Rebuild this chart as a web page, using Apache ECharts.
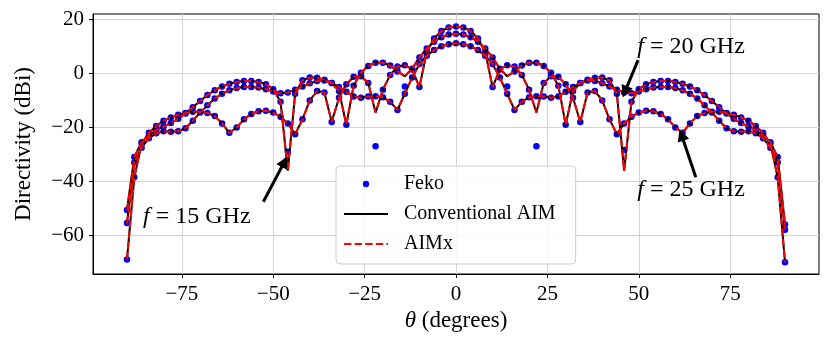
<!DOCTYPE html>
<html>
<head>
<meta charset="utf-8">
<script src="https://cdn.jsdelivr.net/npm/echarts@6/dist/echarts.min.js"></script>
<style>
  html, body { margin: 0; padding: 0; background: #fff; }
  #chart { width: 830px; height: 347px; }
</style>
</head>
<body>
<div id="chart"></div>
<script>
// sampling angle (deg), every 2 degrees from -90 to 90
const theta = Array.from({ length: 91 }, (_, i) => -90 + 2 * i);

// directivity (dBi), -90 .. 90
const d25 = [
  -69.0, -38.5, -26.0, -22.0, -19.5, -17.5, -16.3, -15.3, -14.6, -14.2,
  -14.2, -14.6, -15.8, -18.5, -22.0, -20.0, -17.0, -15.0, -14.0, -13.8,
  -14.5, -16.0, -18.5, -22.5, -17.0, -10.0, -6.5, -7.0, -18.0, -9.0,
  -4.0, -1.2, -1.0, -3.5, -14.5, -6.0, -0.5, 2.6, 3.1, 1.5,
  -5.0, 8.0, 13.0, 15.8, 17.1,
  17.5,
  17.1, 15.8, 13.0, 8.0, -5.0, 1.5, 3.1, 2.6, -0.5, -6.0,
  -14.5, -3.5, -1.0, -1.2, -4.0, -9.0, -18.0, -7.0, -6.5, -10.0,
  -17.0, -22.5, -18.5, -16.0, -14.5, -13.8, -14.0, -15.0, -17.0, -20.0,
  -22.0, -18.5, -15.8, -14.6, -14.2, -14.2, -14.6, -15.3, -16.3, -17.5,
  -19.5, -22.0, -26.0, -38.5, -70.0
];
const d20 = [
  -55.5, -33.0, -27.5, -24.0, -22.2, -21.4, -21.6, -21.4, -20.3, -17.5,
  -14.5, -11.8, -9.3, -7.5, -6.2, -5.4, -5.0, -5.0, -5.2, -5.8,
  -6.7, -7.3, -7.0, -6.0, -4.8, -3.6, -2.8, -2.6, -3.5, -6.5,
  -19.0, -4.5, 0.3, 2.8, 4.0, 4.0, 3.0, 0.8, -1.0, 1.8,
  6.0, 9.3, 11.8, 13.5, 14.5,
  14.8,
  14.5, 13.5, 11.8, 9.3, 6.0, 1.8, -1.0, 0.8, 3.0, 4.0,
  4.0, 2.8, 0.3, -4.5, -19.0, -6.5, -3.5, -2.6, -2.8, -3.6,
  -4.8, -6.0, -7.0, -7.3, -6.7, -5.8, -5.2, -5.0, -5.0, -5.4,
  -6.2, -7.5, -9.3, -11.8, -14.5, -17.5, -20.3, -21.4, -21.6, -21.4,
  -22.2, -24.0, -27.5, -33.0, -58.0
];
const d15 = [
  -50.6, -31.0, -25.5, -23.0, -21.0, -19.6, -18.4, -16.8, -14.8, -12.5,
  -10.2, -8.0, -6.2, -4.8, -3.8, -3.1, -2.8, -2.8, -3.1, -4.0,
  -5.8, -10.5, -36.0, -7.5, -2.5, -1.5, -1.6, -2.3, -3.5, -5.0,
  -6.8, -8.5, -9.0, -8.5, -8.4, -8.8, -10.5, -13.5, -7.5, -1.5,
  3.5, 6.6, 8.7, 10.1, 10.9,
  11.2,
  10.9, 10.1, 8.7, 6.6, 3.5, -1.5, -7.5, -13.5, -10.5, -8.8,
  -8.4, -8.5, -9.0, -8.5, -6.8, -5.0, -3.5, -2.3, -1.6, -1.5,
  -2.5, -7.5, -36.0, -10.5, -5.8, -4.0, -3.1, -2.8, -2.8, -3.1,
  -3.8, -4.8, -6.2, -8.0, -10.2, -12.5, -14.8, -16.8, -18.4, -19.6,
  -21.0, -23.0, -25.5, -31.0, -56.0
];

// Feko samples that differ from the AIM solution: [theta, dBi]
const feko15Diff = [[-46, -29.0], [46, -28.4]];
const feko20Diff = [[-14, -4.8], [14, -4.8]];
const feko25Diff = [[-22, -27.0], [22, -27.0]];

const xTicks = [-75, -50, -25, 0, 25, 50, 75];
const yTicks = [-60, -40, -20, 0, 20];

// annotations: text anchor and arrow (tail -> tip), in data units
const notes = [
  { text: "20", at: [49.6, 9.8], from: [49.8, 5.0], to: [46.2, -6.8] },
  { text: "25", at: [49.6, -43.2], from: [65.6, -38.5], to: [61.7, -22.8] },
  { text: "15", at: [-85.6, -53.3], from: [-52.7, -47.6], to: [-46.9, -32.7] },
];

const FONT = "Liberation Serif";
const minus = (v) => String(v).replace("-", "\u2212");

function pairs(vals) {
  return theta.map((t, i) => [t, vals[i]]);
}
function feko(vals, diff) {
  const p = pairs(vals);
  diff.forEach(([t, v]) => {
    const k = theta.indexOf(t);
    if (k > -1) p[k] = [t, v];
  });
  return p;
}

const curves = [
  { line: d15, diff: feko15Diff },
  { line: d20, diff: feko20Diff },
  { line: d25, diff: feko25Diff },
];

const series = [];
curves.forEach((c) => {
  series.push({
    name: "Feko",
    type: "line",
    data: feko(c.line, c.diff),
    symbol: "circle",
    symbolSize: 6.5,
    showSymbol: true,
    itemStyle: { color: "#0000ff" },
    lineStyle: { width: 0, opacity: 0 },
    z: 2,
  });
});
curves.forEach((c) => {
  series.push({
    name: "Conventional AIM",
    type: "line",
    data: pairs(c.line),
    symbol: "none",
    itemStyle: { color: "#000000" },
    lineStyle: { color: "#000000", width: 2 },
    z: 3,
  });
});
curves.forEach((c) => {
  series.push({
    name: "AIMx",
    type: "line",
    data: pairs(c.line),
    symbol: "none",
    itemStyle: { color: "#ff0000" },
    lineStyle: { color: "#ff0000", width: 2, type: [7.4, 3.2] },
    z: 4,
  });
});
// arrows and labels
series.push({
  name: "notes",
  type: "line",
  data: [],
  silent: true,
  z: 6,
  markLine: {
    silent: true,
    symbol: ["none", "triangle"],
    symbolSize: 12,
    label: { show: false },
    itemStyle: { color: "#000" },
    lineStyle: { color: "#000", width: 3, type: "solid" },
    emphasis: { disabled: true },
    data: notes.map((n) => [{ coord: n.from }, { coord: n.to }]),
  },
  markPoint: {
    silent: true,
    symbol: "rect",
    symbolSize: 0,
    label: {
      show: true,
      position: "right",
      distance: 0,
      color: "#000",
      fontFamily: FONT,
      fontSize: 24,
      formatter: (p) => "{i|f} = " + p.value + " GHz",
      rich: { i: { fontStyle: "italic", fontFamily: FONT, fontSize: 24, color: "#000" } },
    },
    data: notes.map((n) => ({ coord: n.at, value: n.text })),
  },
});

const axisText = { color: "#000", fontFamily: FONT, fontSize: 21 };

const option = {
  animation: false,
  backgroundColor: "#fff",
  grid: {
    left: 93,
    right: 11,
    top: 14,
    bottom: 73,
    show: true,
    borderColor: "#000",
    borderWidth: 1,
  },
  legend: {
    data: [
      { name: "Feko" },
      { name: "Conventional AIM", itemStyle: { opacity: 0 } },
      { name: "AIMx", itemStyle: { opacity: 0 } },
    ],
    orient: "vertical",
    left: 336,
    top: 166,
    itemWidth: 44,
    itemHeight: 8,
    itemGap: 8,
    padding: [7, 20, 9, 7],
    backgroundColor: "rgba(255,255,255,0.8)",
    borderColor: "#cccccc",
    borderWidth: 1,
    borderRadius: 4,
    selectedMode: false,
    textStyle: {
      color: "#000",
      fontFamily: FONT,
      fontSize: 20,
      lineHeight: 22,
      padding: [0, 0, 0, 11],
    },
  },
  xAxis: {
    type: "value",
    min: -99.3,
    max: 99.3,
    name: "{i|\u03b8} (degrees)",
    nameLocation: "middle",
    nameGap: 34,
    nameTextStyle: {
      color: "#000",
      fontFamily: FONT,
      fontSize: 23,
      verticalAlign: "top",
      rich: { i: { fontStyle: "italic", fontFamily: FONT, fontSize: 23, color: "#000" } },
    },
    axisLine: { show: true, onZero: false, lineStyle: { color: "#000", width: 1 } },
    axisTick: { show: true, length: 4, customValues: xTicks, lineStyle: { color: "#000" } },
    axisLabel: { ...axisText, margin: 10, customValues: xTicks, formatter: minus },
    splitLine: { show: true, lineStyle: { color: "#d4d4d4", width: 1 } },
  },
  yAxis: {
    type: "value",
    min: -74.4,
    max: 22.1,
    name: "Directivity (dBi)",
    nameLocation: "middle",
    nameGap: 58,
    nameTextStyle: { color: "#000", fontFamily: FONT, fontSize: 23 },
    axisLine: { show: true, onZero: false, lineStyle: { color: "#000", width: 1 } },
    axisTick: { show: true, length: 4, customValues: yTicks, lineStyle: { color: "#000" } },
    axisLabel: { ...axisText, margin: 9, customValues: yTicks, formatter: minus },
    splitLine: { show: true, lineStyle: { color: "#d4d4d4", width: 1 } },
  },
  series,
};

const myChart = echarts.init(document.getElementById("chart"), null, { renderer: "canvas" });
myChart.setOption(option);
window.addEventListener("resize", () => {
  myChart.resize();
});
</script>
</body>
</html>
